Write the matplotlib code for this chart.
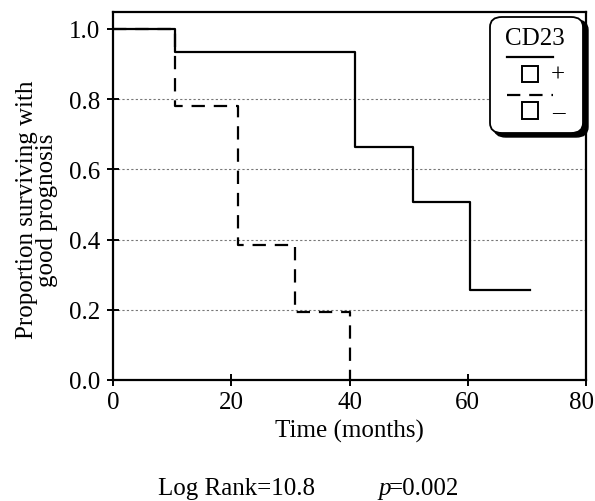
import matplotlib
matplotlib.use("Agg")
import matplotlib.pyplot as plt
import matplotlib.transforms as mtransforms
from matplotlib.patches import FancyBboxPatch, Rectangle
from matplotlib.lines import Line2D

plt.rcParams['font.family'] = ['Liberation Serif', 'DejaVu Serif']

# Data
t_pos = [0, 10.5, 41.0, 50.8, 60.3, 70.5]
s_pos = [1.0, 0.933, 0.663, 0.506, 0.256, 0.256]
t_neg = [0, 10.5, 21.2, 30.8, 40.1]
s_neg = [1.0, 0.78, 0.385, 0.195, 0.0]
xticks = [0, 20, 40, 60, 80]
yticks = [0.0, 0.2, 0.4, 0.6, 0.8, 1.0]
grid_levels = [0.2, 0.4, 0.6, 0.8]

W, H = 595, 502
FS = 18
fig = plt.figure(figsize=(W/100, H/100), dpi=100)
ax = fig.add_axes([113/W, 1-381/H, 473/W, 368/H])

for g in grid_levels:
    ax.axhline(g, color='#777777', lw=0.8, ls=(0, (2, 2)), zorder=1)

ax.step(t_pos, s_pos, where='post', color='black', lw=1.6, zorder=3)
ax.step(t_neg, s_neg, where='post', color='black', lw=1.6, ls=(0, (6, 4)), zorder=2)

ax.set_xlim(0, 80)
ax.set_ylim(0, 1.048)
ax.set_xticks(xticks)
ax.set_xticklabels([str(x) for x in xticks])
ax.set_yticks(yticks)
ax.set_yticklabels([f"{y:.1f}" for y in yticks])
for sp in ax.spines.values():
    sp.set_linewidth(1.6)
ax.tick_params(axis='both', labelsize=FS, width=1.4, length=8, direction='inout')
ax.tick_params(axis='x', pad=4)
ax.tick_params(axis='y', pad=5)

fig.canvas.draw()
lbls = ax.get_xticklabels()
lbls[-1].set_transform(lbls[-1].get_transform() +
                       mtransforms.ScaledTranslation(-5/100, 0, fig.dpi_scale_trans))

ax.set_xlabel("Time (months)", fontsize=FS, labelpad=4)
fig.text(37/W, 1-210/H, "Proportion surviving with\ngood prognosis", rotation=90,
         ha='center', va='center', fontsize=FS, linespacing=0.85)

fig.text(158/W, 1-489/H, "Log Rank=10.8", fontsize=FS, ha='left', va='center')
fig.text(378/W, 1-489/H, "p", fontsize=FS, style='italic', ha='left', va='center')
fig.text(389/W, 1-489/H, "=0.002", fontsize=FS, ha='left', va='center')

# Legend box
tf = fig.transFigure
def fx(px): return px / W
def fy(py): return 1 - py / H

shadow = FancyBboxPatch((fx(494), fy(138)), fx(588) - fx(494), fy(21) - fy(138),
                        boxstyle="round,pad=0,rounding_size=0.02", transform=tf,
                        facecolor='black', edgecolor='black', zorder=5)
fig.patches.append(shadow)
box = FancyBboxPatch((fx(490), fy(134)), fx(583) - fx(490), fy(18) - fy(134),
                     boxstyle="round,pad=0,rounding_size=0.02", transform=tf,
                     facecolor='white', edgecolor='black', lw=1.3, zorder=6)
fig.patches.append(box)
fig.text(fx(535), fy(39), "CD23", fontsize=FS, ha='center', va='center', zorder=7)
fig.lines.append(Line2D([fx(507), fx(553)], [fy(58), fy(58)], transform=tf,
                        color='black', lw=1.6, zorder=7))
fig.patches.append(Rectangle((fx(522), fy(83)), fx(538) - fx(522), fy(67) - fy(83),
                             transform=tf, facecolor='white', edgecolor='black', lw=1.4, zorder=7))
fig.text(fx(558), fy(76), "+", fontsize=18, ha='center', va='center', zorder=7)
fig.lines.append(Line2D([fx(507), fx(553)], [fy(96), fy(96)], transform=tf,
                        color='black', lw=1.6, ls=(0, (6, 4)), zorder=7))
fig.patches.append(Rectangle((fx(522), fy(120)), fx(538) - fx(522), fy(103) - fy(120),
                             transform=tf, facecolor='white', edgecolor='black', lw=1.4, zorder=7))
fig.text(fx(558), fy(112), "\u2013", fontsize=18, ha='center', va='center', zorder=7)

fig.savefig("out.png", dpi=100)
